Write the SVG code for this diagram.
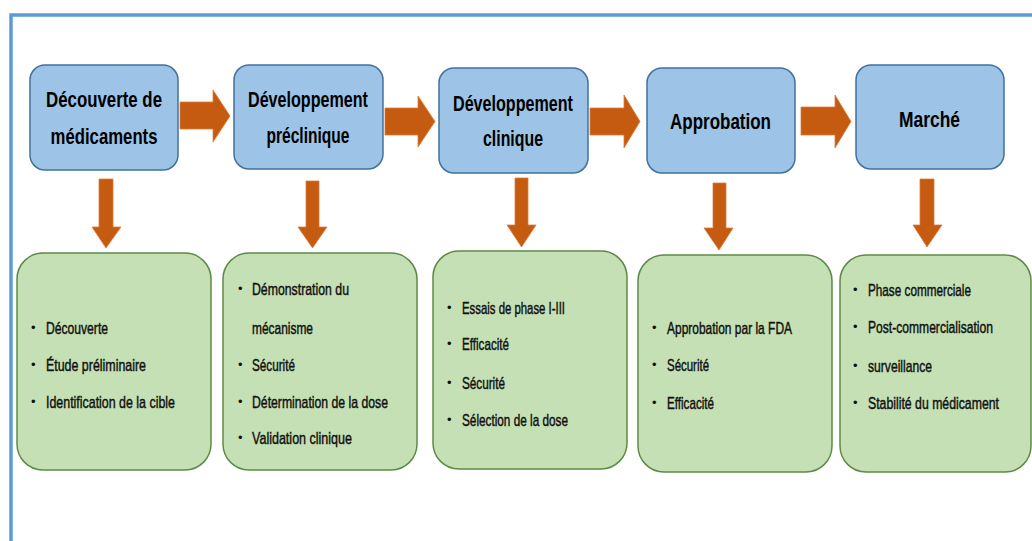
<svg xmlns="http://www.w3.org/2000/svg" width="1032" height="541" viewBox="0 0 1032 541">
  <style>
    .stage { fill: #9DC3E6; stroke: #41719C; stroke-width: 1.5; }
    .detail { fill: #C5E0B4; stroke: #5E8A45; stroke-width: 1.5; }
    .head { font-family: "Liberation Sans", Arial, sans-serif; font-weight: bold; font-size: 21.5px; fill: #000; text-anchor: middle; }
    .item { font-family: "Liberation Sans", Arial, sans-serif; font-size: 17px; fill: #111; stroke: #111; stroke-width: 0.45; }
    .dot { font-family: "Liberation Sans", Arial, sans-serif; font-size: 13px; fill: #111; }
    .arrow { fill: #C55A11; stroke: #E07B39; stroke-width: 0.8; }
  </style>

  <rect x="0" y="0" width="1032" height="541" fill="#ffffff"/>
  <!-- frame -->
  <path d="M11 541 V15 H1032" fill="none" stroke="#5B9BD5" stroke-width="3.5"/>

  <!-- connectors -->
  <g id="connectors">
    <polygon class="arrow" points="180,102 213,102 213,90 230,116 213,142 213,129 180,129"/>
    <polygon class="arrow" points="385,108 418,108 418,96 435,121.5 418,147 418,135 385,135"/>
    <polygon class="arrow" points="590,108 624,108 624,95 640,121.5 624,148 624,135 590,135"/>
    <polygon class="arrow" points="801,107 835,107 835,95 851,121.5 835,148 835,135 801,135"/>

    <polygon class="arrow" points="99,179 113,179 113,227 121,227 106,248 92,227 99,227"/>
    <polygon class="arrow" points="306,181 319,181 319,227 327,227 312.5,248 298,227 306,227"/>
    <polygon class="arrow" points="515,178 528,178 528,225 536,225 521.5,247 507,225 515,225"/>
    <polygon class="arrow" points="713,183 726,183 726,228 733,228 719,250 704,228 713,228"/>
    <polygon class="arrow" points="920,179 934,179 934,225 942,225 927,247 913,225 920,225"/>
  </g>

  <!-- stage boxes -->
  <g id="stage-decouverte">
    <rect class="stage" x="30" y="65" width="148" height="105" rx="15"/>
    <text class="head" x="104" y="107" textLength="116" lengthAdjust="spacingAndGlyphs">Découverte de</text>
    <text class="head" x="104" y="144" textLength="107" lengthAdjust="spacingAndGlyphs">médicaments</text>
  </g>
  <g id="stage-preclinique">
    <rect class="stage" x="234" y="65" width="149" height="104" rx="15"/>
    <text class="head" x="308" y="107" textLength="120" lengthAdjust="spacingAndGlyphs">Développement</text>
    <text class="head" x="308" y="143" textLength="83" lengthAdjust="spacingAndGlyphs">préclinique</text>
  </g>
  <g id="stage-clinique">
    <rect class="stage" x="439" y="68" width="149" height="105" rx="15"/>
    <text class="head" x="513" y="111" textLength="120" lengthAdjust="spacingAndGlyphs">Développement</text>
    <text class="head" x="513" y="146" textLength="60" lengthAdjust="spacingAndGlyphs">clinique</text>
  </g>
  <g id="stage-approbation">
    <rect class="stage" x="647" y="68" width="148" height="105" rx="15"/>
    <text class="head" x="720.5" y="129" textLength="101" lengthAdjust="spacingAndGlyphs">Approbation</text>
  </g>
  <g id="stage-marche">
    <rect class="stage" x="856" y="65" width="148" height="104" rx="15"/>
    <text class="head" x="929.5" y="127" textLength="61" lengthAdjust="spacingAndGlyphs">Marché</text>
  </g>

  <!-- detail boxes -->
  <g id="detail-decouverte">
    <rect class="detail" x="17" y="253" width="194" height="217" rx="26"/>
    <text class="dot" x="31" y="332">•</text>
    <text class="item" x="46" y="334" textLength="62" lengthAdjust="spacingAndGlyphs">Découverte</text>
    <text class="dot" x="31" y="369">•</text>
    <text class="item" x="46" y="371" textLength="100" lengthAdjust="spacingAndGlyphs">Étude préliminaire</text>
    <text class="dot" x="31" y="406">•</text>
    <text class="item" x="46" y="408" textLength="129" lengthAdjust="spacingAndGlyphs">Identification de la cible</text>
  </g>
  <g id="detail-preclinique">
    <rect class="detail" x="223" y="253" width="194" height="217" rx="26"/>
    <text class="dot" x="238" y="293">•</text>
    <text class="item" x="252" y="295" textLength="97" lengthAdjust="spacingAndGlyphs">Démonstration du</text>
    <text class="item" x="252" y="334" textLength="61" lengthAdjust="spacingAndGlyphs">mécanisme</text>
    <text class="dot" x="238" y="369">•</text>
    <text class="item" x="252" y="371" textLength="43" lengthAdjust="spacingAndGlyphs">Sécurité</text>
    <text class="dot" x="238" y="406">•</text>
    <text class="item" x="252" y="408" textLength="136" lengthAdjust="spacingAndGlyphs">Détermination de la dose</text>
    <text class="dot" x="238" y="442">•</text>
    <text class="item" x="252" y="444" textLength="100" lengthAdjust="spacingAndGlyphs">Validation clinique</text>
  </g>
  <g id="detail-clinique">
    <rect class="detail" x="433" y="251" width="194" height="218" rx="26"/>
    <text class="dot" x="447" y="312">•</text>
    <text class="item" x="462" y="314" textLength="103" lengthAdjust="spacingAndGlyphs">Essais de phase I-III</text>
    <text class="dot" x="447" y="348">•</text>
    <text class="item" x="462" y="350" textLength="47" lengthAdjust="spacingAndGlyphs">Efficacité</text>
    <text class="dot" x="447" y="387">•</text>
    <text class="item" x="462" y="389" textLength="43" lengthAdjust="spacingAndGlyphs">Sécurité</text>
    <text class="dot" x="447" y="424">•</text>
    <text class="item" x="462" y="426" textLength="106" lengthAdjust="spacingAndGlyphs">Sélection de la dose</text>
  </g>
  <g id="detail-approbation">
    <rect class="detail" x="638" y="255" width="194" height="217" rx="26"/>
    <text class="dot" x="652" y="332">•</text>
    <text class="item" x="667" y="334" textLength="125" lengthAdjust="spacingAndGlyphs">Approbation par la FDA</text>
    <text class="dot" x="652" y="369">•</text>
    <text class="item" x="667" y="371" textLength="42" lengthAdjust="spacingAndGlyphs">Sécurité</text>
    <text class="dot" x="652" y="407">•</text>
    <text class="item" x="667" y="409" textLength="47" lengthAdjust="spacingAndGlyphs">Efficacité</text>
  </g>
  <g id="detail-marche">
    <rect class="detail" x="840" y="255" width="191" height="217" rx="26"/>
    <text class="dot" x="853" y="294">•</text>
    <text class="item" x="868" y="296" textLength="103" lengthAdjust="spacingAndGlyphs">Phase commerciale</text>
    <text class="dot" x="853" y="331">•</text>
    <!-- narrowed by a horizontal scale so the long lines stay inside the box -->
    <text class="item" transform="translate(868 333) scale(0.72 1)" x="0" y="0" textLength="173.6" lengthAdjust="spacingAndGlyphs">Post-commercialisation</text>
    <text class="dot" x="853" y="370">•</text>
    <text class="item" x="868" y="372" textLength="64" lengthAdjust="spacingAndGlyphs">surveillance</text>
    <text class="dot" x="853" y="407">•</text>
    <text class="item" transform="translate(868 409) scale(0.72 1)" x="0" y="0" textLength="181.9" lengthAdjust="spacingAndGlyphs">Stabilité du médicament</text>
  </g>
</svg>
